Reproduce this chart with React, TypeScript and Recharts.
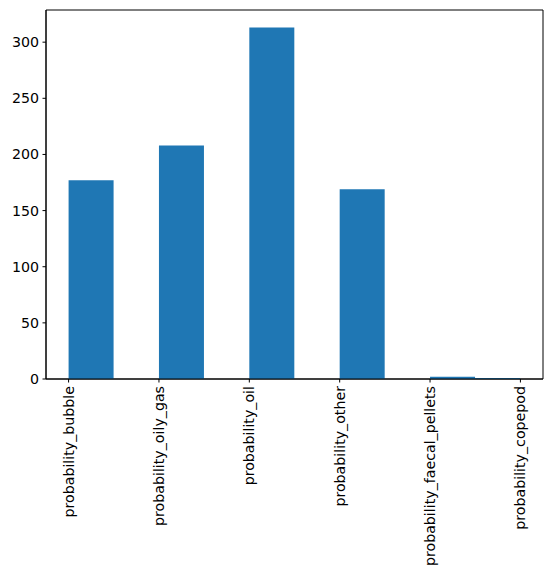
import React from 'react';
import { BarChart, Bar, XAxis, YAxis, ReferenceArea } from 'recharts';

const categories = [
  'probability_bubble',
  'probability_oily_gas',
  'probability_oil',
  'probability_other',
  'probability_faecal_pellets',
  'probability_copepod',
];
const counts = [177, 208, 313, 169, 2, 1];
const yTicks = [0, 50, 100, 150, 200, 250, 300];
const xTicks = [0, 1, 2, 3, 4, 5];
const binCount = 10;

// matplotlib-style histogram of the category indices 0..5 with 10 bins
const binWidth = (categories.length - 1) / binCount;
const binValues: number[] = new Array(binCount).fill(0);
categories.forEach((_, i) => {
  const b = Math.min(Math.floor(i / binWidth), binCount - 1);
  binValues[b] += counts[i];
});
const data = binValues.map((v, b) => ({ center: (b + 0.5) * binWidth, count: v }));

const xMin = -0.05 * (categories.length - 1);
const xMax = (categories.length - 1) * 1.05;
const yMax = Math.max(...counts) * 1.05;

const FONT = 'DejaVu Sans';
const FS = 14.2;

const XTick = (props: any) => {
  const { x, y, payload } = props;
  return (
    <text
      x={x}
      y={y}
      transform={`rotate(-90, ${x}, ${y})`}
      textAnchor="end"
      dominantBaseline="central"
      fontFamily={FONT}
      fontSize={FS}
      fill="#000"
    >
      {categories[payload.value]}
    </text>
  );
};

export default function App() {
  return (
    <div style={{ position: 'absolute', left: 0, top: 0, background: '#fff' }}>
      <BarChart
        width={552}
        height={576}
        data={data}
        margin={{ top: 10, right: 9, bottom: 0, left: 0 }}
        barCategoryGap={0}
        barGap={0}
      >
        <XAxis
          dataKey="center"
          type="number"
          domain={[xMin, xMax]}
          ticks={xTicks}
          interval={0}
          height={197}
          tickSize={3.5}
          tickMargin={3.5}
          tick={<XTick />}
          stroke="#000"
          axisLine={{ stroke: '#000', strokeWidth: 1 }}
          tickLine={{ stroke: '#000', strokeWidth: 1 }}
          allowDataOverflow
        />
        <YAxis
          type="number"
          domain={[0, yMax]}
          ticks={yTicks}
          width={46}
          tickSize={3.5}
          tickMargin={3.5}
          tick={{ fontFamily: FONT, fontSize: FS, fill: '#000' }}
          stroke="#000"
          axisLine={{ stroke: '#000', strokeWidth: 1 }}
          tickLine={{ stroke: '#000', strokeWidth: 1 }}
          allowDataOverflow
        />
        <Bar dataKey="count" fill="#1f77b4" isAnimationActive={false} />
        <ReferenceArea
          x1={xMin}
          x2={xMax}
          y1={0}
          y2={yMax}
          fill="none"
          fillOpacity={0}
          stroke="#000"
          strokeWidth={1}
          strokeOpacity={1}
          ifOverflow="visible"
        />
      </BarChart>
    </div>
  );
}
